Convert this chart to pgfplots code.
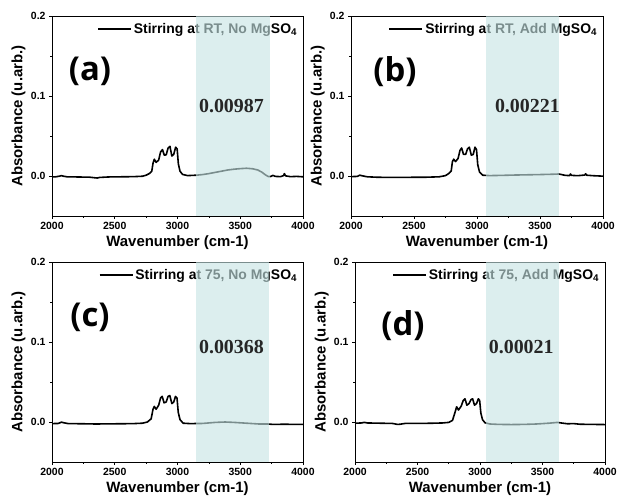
\documentclass[border=0pt]{standalone}
\usepackage{pgfplots}
\pgfplotsset{compat=1.18}
\usepackage{fontspec}
\setmainfont{Liberation Sans}
\newfontfamily\valfont{Liberation Serif}
\newfontfamily\panelfont{Open Sans}

\definecolor{band}{RGB}{198,228,228}

% spectra (wavenumber, absorbance)
\pgfplotstableread{
x y
2000 -0.0010
2030 -0.0010
2060 -0.0002
2075 0.0005
2090 -0.0002
2120 -0.0010
2200 -0.0012
2300 -0.0015
2340 -0.0022
2360 -0.0025
2380 -0.0018
2450 -0.0012
2550 -0.0010
2650 -0.0008
2720 -0.0003
2750 0.0010
2775 0.0030
2795 0.0060
2805 0.0160
2815 0.0210
2830 0.0170
2850 0.0200
2865 0.0300
2880 0.0330
2895 0.0260
2910 0.0265
2925 0.0350
2940 0.0370
2955 0.0250
2970 0.0270
2985 0.0360
2997 0.0340
3007 0.0150
3020 0.0060
3040 0.0020
3080 0.0005
3150 0.0010
3200 0.0018
3250 0.0030
3300 0.0045
3350 0.0060
3400 0.0075
3450 0.0085
3500 0.0092
3550 0.0097
3600 0.0090
3640 0.0075
3670 0.0050
3700 0.0015
3725 -0.0008
3745 -0.0005
3760 0.0008
3780 -0.0005
3820 -0.0008
3845 0.0005
3852 0.0030
3860 0.0002
3900 -0.0008
3950 -0.0005
4000 -0.0010
}\specA

\pgfplotstableread{
x y
2000 -0.0008
2050 -0.0005
2070 0.0010
2090 0.0002
2130 -0.0010
2200 -0.0015
2300 -0.0018
2400 -0.0017
2500 -0.0016
2600 -0.0015
2700 -0.0010
2750 0.0005
2775 0.0030
2795 0.0060
2805 0.0180
2815 0.0210
2830 0.0180
2850 0.0220
2865 0.0320
2878 0.0350
2893 0.0270
2910 0.0270
2925 0.0340
2939 0.0360
2955 0.0260
2970 0.0270
2984 0.0360
2996 0.0330
3006 0.0140
3020 0.0050
3045 0.0010
3100 0.0005
3200 0.0008
3300 0.0012
3400 0.0015
3500 0.0018
3600 0.0022
3650 0.0025
3700 0.0008
3735 0.0005
3742 0.0025
3750 0.0008
3800 0.0004
3855 0.0012
3862 0.0028
3870 0.0010
3920 0.0004
4000 -0.0002
}\specB

\pgfplotstableread{
x y
2000 -0.0020
2050 -0.0018
2075 -0.0002
2095 -0.0010
2130 -0.0020
2250 -0.0022
2350 -0.0025
2450 -0.0023
2550 -0.0022
2650 -0.0020
2720 -0.0015
2760 0.0000
2790 0.0040
2805 0.0160
2815 0.0195
2830 0.0160
2850 0.0210
2865 0.0300
2878 0.0320
2893 0.0240
2910 0.0250
2925 0.0320
2939 0.0330
2955 0.0230
2970 0.0250
2984 0.0320
2996 0.0300
3006 0.0120
3020 0.0030
3045 -0.0015
3100 -0.0020
3200 -0.0018
3300 -0.0005
3380 0.0000
3450 -0.0005
3550 -0.0015
3650 -0.0025
3720 -0.0025
3760 -0.0030
3850 -0.0028
3950 -0.0030
4000 -0.0030
}\specC

\pgfplotstableread{
x y
2000 -0.0015
2050 -0.0012
2075 -0.0005
2100 -0.0012
2200 -0.0015
2300 -0.0018
2340 -0.0030
2360 -0.0028
2400 -0.0018
2500 -0.0017
2600 -0.0016
2700 -0.0012
2750 -0.0005
2780 0.0020
2800 0.0120
2813 0.0190
2828 0.0150
2850 0.0200
2866 0.0270
2880 0.0290
2895 0.0210
2912 0.0230
2928 0.0280
2941 0.0290
2956 0.0210
2972 0.0230
2987 0.0290
2997 0.0270
3007 0.0110
3020 0.0030
3040 -0.0010
3080 -0.0025
3150 -0.0030
3250 -0.0032
3350 -0.0030
3450 -0.0025
3550 -0.0015
3620 -0.0005
3650 -0.0012
3700 -0.0022
3750 -0.0020
3800 -0.0028
3900 -0.0030
4000 -0.0032
}\specD

\pgfplotsset{
  panel/.style={
    scale only axis,
    width=251bp, height=200bp,
    xmin=2000, xmax=4000,
    ymin=-0.05, ymax=0.2,
    xtick={2000,2500,3000,3500,4000},
    ytick={0,0.1,0.2},
    minor x tick num=1,
    minor y tick num=1,
    xtick pos=bottom, ytick pos=left,
    tick align=outside,
    major tick length=3bp,
    minor tick length=1.8bp,
    axis line style={line width=0.8bp},
    every tick/.style={black, line width=0.7bp},
    /pgf/number format/assume math mode=true,
    tick label style={font=\bfseries\fontsize{10.5}{12}\selectfont},
    xticklabel style={/pgf/number format/set thousands separator={}},
    yticklabel style={/pgf/number format/fixed, /pgf/number format/fixed zerofill, /pgf/number format/precision=1},
    xlabel={Wavenumber (cm-1)},
    ylabel={Absorbance (u.arb.)},
    label style={font=\bfseries\fontsize{15}{18}\selectfont},
    xlabel style={yshift=1bp},
    ylabel style={yshift=-1.5bp},
    legend style={at={(rel axis cs:0.985,0.975)}, anchor=north east,
      draw=none, fill=none, inner sep=0pt,
      font=\bfseries\fontsize{14}{16}\selectfont},
    legend image code/.code={\draw[line width=1.6bp] (0bp,0bp) -- (33bp,0bp);},
  },
  spec/.style={black, line width=1.6bp, line join=round},
}
\tikzset{
  panellabel/.style={font=\panelfont\bfseries\fontsize{33}{36}\selectfont},
  bandvalue/.style={font=\valfont\bfseries\fontsize{20}{24}\selectfont, text=black!85},
}

\begin{document}
\begin{tikzpicture}
\useasboundingbox (0,0) rectangle (619bp,-502bp);

% (a)
\begin{axis}[panel, at={(52bp,-16bp)}, anchor=north west]
\addplot[spec] table[x=x, y=y] {\specA};
\addlegendentry{Stirring at RT, No MgSO\textsubscript{4}}
\node[panellabel] at (axis cs:2303,0.131) {(a)};
\coordinate (aV) at (axis cs:3430,0.0875);
\coordinate (aL) at (axis cs:3150,-0.05);
\coordinate (aR) at (axis cs:3740,0.2);
\end{axis}
\fill[band, opacity=0.62] (aL) rectangle (aR);
\node[bandvalue] at (aV) {0.00987};

% (b)
\begin{axis}[panel, width=252bp, at={(351bp,-16bp)}, anchor=north west]
\addplot[spec] table[x=x, y=y] {\specB};
\addlegendentry{Stirring at RT, Add MgSO\textsubscript{4}}
\node[panellabel] at (axis cs:2349,0.131) {(b)};
\coordinate (bV) at (axis cs:3400,0.0875);
\coordinate (bL) at (axis cs:3070,-0.05);
\coordinate (bR) at (axis cs:3650,0.2);
\end{axis}
\fill[band, opacity=0.62] (bL) rectangle (bR);
\node[bandvalue] at (bV) {0.00221};

% (c)
\begin{axis}[panel, at={(52bp,-262bp)}, anchor=north west]
\addplot[spec] table[x=x, y=y] {\specC};
\addlegendentry{Stirring at 75, No MgSO\textsubscript{4}}
\node[panellabel] at (axis cs:2303,0.131) {(c)};
\coordinate (cV) at (axis cs:3430,0.094);
\coordinate (cL) at (axis cs:3147,-0.05);
\coordinate (cR) at (axis cs:3730,0.2);
\end{axis}
\fill[band, opacity=0.62] (cL) rectangle (cR);
\node[bandvalue] at (cV) {0.00368};

% (d)
\begin{axis}[panel, width=250bp, at={(355bp,-262bp)}, anchor=north west]
\addplot[spec] table[x=x, y=y] {\specD};
\addlegendentry{Stirring at 75, Add MgSO\textsubscript{4}}
\node[panellabel] at (axis cs:2384,0.12) {(d)};
\coordinate (dV) at (axis cs:3330,0.094);
\coordinate (dL) at (axis cs:3048,-0.05);
\coordinate (dR) at (axis cs:3632,0.2);
\end{axis}
\fill[band, opacity=0.62] (dL) rectangle (dR);
\node[bandvalue] at (dV) {0.00021};
\end{tikzpicture}
\end{document}
